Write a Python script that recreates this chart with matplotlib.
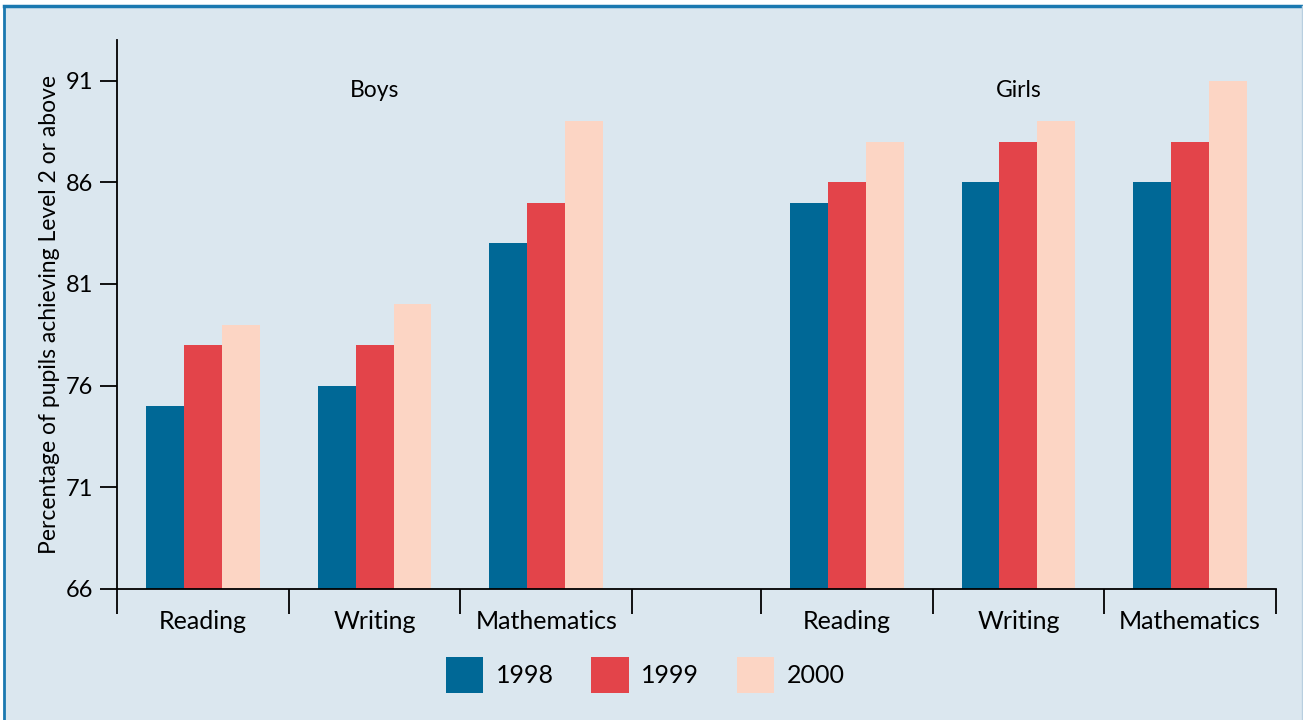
import matplotlib
matplotlib.use("Agg")
import matplotlib.pyplot as plt
from matplotlib.patches import Rectangle, Patch
from matplotlib.lines import Line2D
import numpy as np

plt.rcParams['font.family'] = ['Lato', 'DejaVu Sans']

groups = ["Boys", "Girls"]
subjects = ["Reading", "Writing", "Mathematics"]
years = ["1998", "1999", "2000"]
boys_1998 = [75, 76, 83]
boys_1999 = [78, 78, 85]
boys_2000 = [79, 80, 89]
girls_1998 = [85, 86, 86]
girls_1999 = [86, 88, 88]
girls_2000 = [88, 89, 91]
yticks = [66, 71, 76, 81, 86, 91]
colors = ["#006896", "#e3444a", "#fcd5c4"]
bg = "#dbe7ef"

W, H = 1303, 720
fig = plt.figure(figsize=(W / 100, H / 100), dpi=100, facecolor="white")

# panel background and border
fig.patches.append(Rectangle((4 / W, 0), (1302 - 4) / W, (H - 6) / H,
                             transform=fig.transFigure, facecolor=bg,
                             edgecolor="none", zorder=-3))
fig.lines.append(Line2D([4 / W, 4 / W], [0, (H - 6) / H], transform=fig.transFigure,
                        color="#1a78b0", lw=2, zorder=-2))
fig.lines.append(Line2D([4 / W, 1303 / W], [(H - 6) / H, (H - 6) / H],
                        transform=fig.transFigure, color="#1a78b0", lw=2.5, zorder=-2))
fig.lines.append(Line2D([1302 / W, 1302 / W], [0, (H - 6) / H], transform=fig.transFigure,
                        color="#b8cfe0", lw=1, zorder=-2))

ax = fig.add_axes([117 / W, 1 - 589 / H, (1276 - 117) / W, (589 - 40) / H])
ax.set_facecolor("none")

gap = 0.75
boys_x = np.arange(3) + 0.5
girls_x = np.arange(3) + 3 + gap + 0.5
bw = 0.221
series = [(boys_1998, girls_1998), (boys_1999, girls_1999), (boys_2000, girls_2000)]
for i, (b, g) in enumerate(series):
    off = (i - 1) * bw
    ax.bar(boys_x + off, b, width=bw, bottom=0, color=colors[i], zorder=2)
    ax.bar(girls_x + off, g, width=bw, bottom=0, color=colors[i], zorder=2)

ax.set_ylim(66, 93)
ax.set_xlim(0, 6 + gap)
ax.set_yticks(yticks)
ax.set_yticklabels([str(t) for t in yticks], fontsize=17)
ax.tick_params(axis="y", direction="out", length=12, width=1.3, pad=5)

seps = [0, 1, 2, 3, 3 + gap, 4 + gap, 5 + gap, 6 + gap]
ax.set_xticks(seps)
ax.set_xticklabels([])
ax.tick_params(axis="x", direction="out", length=18, width=1.3)
centers = list(boys_x) + list(girls_x)
for c, lab in zip(centers, subjects + subjects):
    ax.text(c, -0.059, lab, transform=ax.get_xaxis_transform(), ha="center",
            va="center", fontsize=18)

for s in ["top", "right"]:
    ax.spines[s].set_visible(False)
for s in ["left", "bottom"]:
    ax.spines[s].set_linewidth(1.3)

ax.text(boys_x[1], 90.5, groups[0], ha="center", va="center", fontsize=16.5)
ax.text(girls_x[1], 90.5, groups[1], ha="center", va="center", fontsize=16.5)

ax.set_ylabel("Percentage of pupils achieving Level 2 or above", fontsize=16.5, labelpad=4)

handles = [Patch(facecolor=c, edgecolor="none") for c in colors]
fig.legend(handles, years, loc="center", bbox_to_anchor=(645 / W, 1 - 675 / H),
           ncol=3, frameon=False, fontsize=18, handlelength=1.5, handleheight=1.8,
           handletextpad=0.5, columnspacing=1.5)

fig.savefig("out.png", dpi=100, facecolor="white")
